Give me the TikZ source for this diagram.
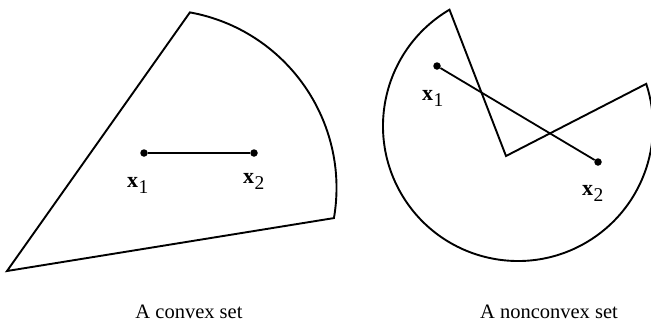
\documentclass[tikz,border=0pt]{standalone}
\usepackage{fontspec}
\setmainfont{Liberation Serif}
\usetikzlibrary{calc}
\newcommand{\vlab}[1]{{\fontsize{22}{22}\selectfont\textbf{x}\kern0.3pt\raisebox{-6pt}{\fontsize{19.5}{19.5}\selectfont #1}}}
\tikzset{
  outline/.style={line width=1.9pt, line join=miter},
  seg/.style={line width=1.8pt},
  pt/.style={circle, fill=black, inner sep=0pt, minimum size=7.5pt},
  lab/.style={anchor=base west, inner sep=0pt},
  captiontext/.style={anchor=base, inner sep=0pt, font=\fontsize{20.5}{20.5}\selectfont}
}
\begin{document}
\begin{tikzpicture}[x=1pt,y=-1pt]
\useasboundingbox (0,0) rectangle (651,322);
% convex set
\coordinate (cA) at (7,271);
\coordinate (cC) at (158,188);
\draw[outline] (cA) -- ($(cC)+(-79.7:178.5)$) arc[start angle=-79.7, end angle=9.7, radius=178.5] -- cycle;
\node[pt] (a1) at (144,153) {};
\node[pt] (a2) at (254,153) {};
\draw[seg] (a1) -- (a2);
\node[lab] (la1) at (127,187) {\vlab{1}};
\node[lab] (la2) at (243,183) {\vlab{2}};
\node[captiontext] (ca) at (189,318) {A convex set};
% nonconvex set
\coordinate (nC) at (518,126);
\coordinate (nV) at (506,156);
\draw[outline] ($(nC)+(-120.5:135)$) arc[start angle=-120.5, end angle=-378.2, radius=135] -- (nV) -- cycle;
\node[pt] (b1) at (437,66) {};
\node[pt] (b2) at (598,162) {};
\draw[seg] (b1) -- (b2);
\node[lab] (lb1) at (422,100) {\vlab{1}};
\node[lab] (lb2) at (582,195) {\vlab{2}};
\node[captiontext] (cb) at (549,318) {A nonconvex set};
\end{tikzpicture}
\end{document}
